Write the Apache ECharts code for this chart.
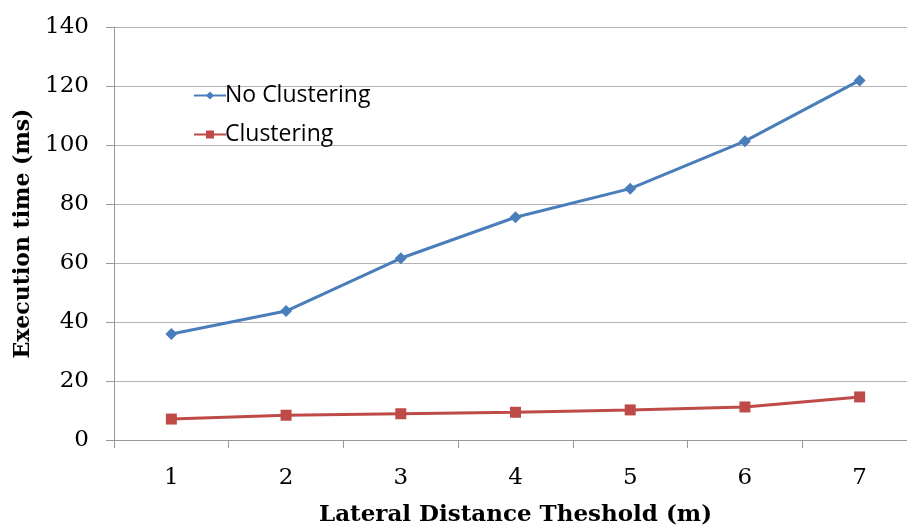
<!DOCTYPE html>
<html><head><meta charset="utf-8">
<script src="https://cdn.jsdelivr.net/npm/echarts@6/dist/echarts.min.js"></script>
<style>html,body{margin:0;padding:0;background:#fff}#c{width:907px;height:527px}</style>
</head><body><div id="c"></div>
<script>
const categories = ['1','2','3','4','5','6','7'];
const noClustering = [35.9, 43.7, 61.6, 75.5, 85.2, 101.3, 121.9];
const clustering = [7.1, 8.4, 8.9, 9.4, 10.2, 11.2, 14.6];
const seriesNames = ['No Clustering', 'Clustering'];

const chart = echarts.init(document.getElementById('c'), null, {renderer:'canvas'});
const serif = '"DejaVu Serif","Liberation Serif",serif';
chart.setOption({
  animation:false,
  backgroundColor:'#fff',
  grid:{left:114, top:27, width:803, height:413, outerBoundsMode:'none', containLabel:false},
  legend:{
    orient:'vertical', left:188, top:79, itemGap:16, itemWidth:32, itemHeight:10,
    textStyle:{fontFamily:'"Open Sans","Noto Sans",sans-serif', fontSize:23, color:'#000', padding:[0,0,0,-6]},
    data:seriesNames
  },
  xAxis:{
    type:'category', data:categories, boundaryGap:true,
    axisLine:{lineStyle:{color:'#999', width:1}},
    axisTick:{show:true, length:8, lineStyle:{color:'#999'}},
    axisLabel:{fontFamily:serif, fontSize:23, color:'#000', margin:27},
    name:'Lateral Distance Theshold (m)', nameLocation:'middle', nameGap:64,
    nameTextStyle:{fontFamily:serif, fontSize:23, fontWeight:'bold', color:'#000'}
  },
  yAxis:{
    type:'value', min:0, max:140, interval:20,
    axisLine:{show:true, lineStyle:{color:'#999', width:1}},
    axisTick:{show:true, length:8, lineStyle:{color:'#999'}},
    splitLine:{lineStyle:{color:'#b3b3b3', width:1}},
    axisLabel:{fontFamily:serif, fontSize:23, color:'#000', margin:25},
    name:'Execution time (ms)', nameLocation:'middle', nameGap:76, nameRotate:90,
    nameTextStyle:{fontFamily:serif, fontSize:22, fontWeight:'bold', color:'#000'}
  },
  series:[
    {name:seriesNames[0], type:'line', data:noClustering, symbol:'diamond', symbolSize:12,
     itemStyle:{color:'#4a7ebb'}, lineStyle:{color:'#4a7ebb', width:3}},
    {name:seriesNames[1], type:'line', data:clustering, symbol:'rect', symbolSize:11,
     itemStyle:{color:'#be4b48'}, lineStyle:{color:'#be4b48', width:3}}
  ]
});
</script></body></html>
